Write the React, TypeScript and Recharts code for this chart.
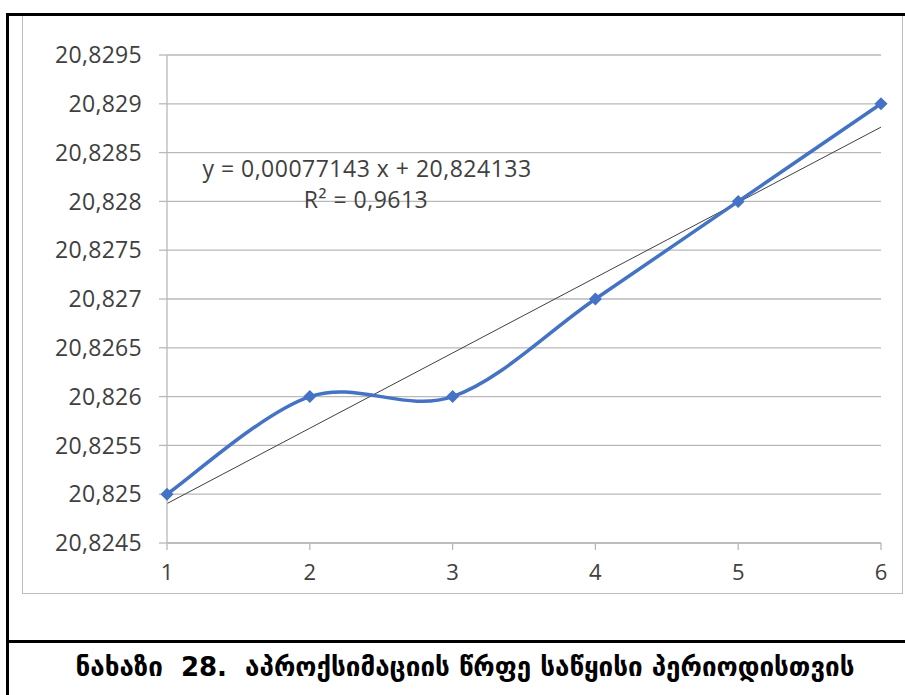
import React from 'react';
import { LineChart, Line, XAxis, YAxis, CartesianGrid } from 'recharts';

const periods = [1, 2, 3, 4, 5, 6];
const values = [20.825, 20.826, 20.826, 20.827, 20.828, 20.829];
// linear trend line shown in the reference (y = 0,00077143x + 20,824133)
const trendValues = [20.824904, 20.825676, 20.826447, 20.827219, 20.82799, 20.828761];
const yTicks = [
  20.8245, 20.825, 20.8255, 20.826, 20.8265, 20.827, 20.8275, 20.828, 20.8285, 20.829, 20.8295,
];
const equationText = 'y = 0,00077143 x + 20,824133';
const rSquaredText = 'R² = 0,9613';
const captionText = 'ნახაზი  28.  აპროქსიმაციის წრფე საწყისი პერიოდისთვის';

const data = periods.map((p, i) => ({ x: p, value: values[i], trend: trendValues[i] }));

const BLUE = '#4472C4';
const GRID = '#B9B9B9';
const FONT = '"Open Sans", "Liberation Sans", sans-serif';

// Excel-like smoothed line (Catmull-Rom converted to bezier segments)
const excelSmooth = (context: any) => {
  let pts: number[][] = [];
  return {
    areaStart() {},
    areaEnd() {},
    lineStart() {
      pts = [];
    },
    point(x: number, y: number) {
      pts.push([+x, +y]);
    },
    lineEnd() {
      const n = pts.length;
      if (!n) return;
      context.moveTo(pts[0][0], pts[0][1]);
      for (let i = 0; i < n - 1; i++) {
        const p0 = pts[i - 1] || pts[i];
        const p1 = pts[i];
        const p2 = pts[i + 1];
        const p3 = pts[i + 2] || p2;
        context.bezierCurveTo(
          p1[0] + (p2[0] - p0[0]) / 6,
          p1[1] + (p2[1] - p0[1]) / 6,
          p2[0] - (p3[0] - p1[0]) / 6,
          p2[1] - (p3[1] - p1[1]) / 6,
          p2[0],
          p2[1]
        );
      }
    },
  };
};

const Diamond = (props: any) => {
  const { cx, cy, index } = props;
  if (cx == null || cy == null) return null;
  const r = 6.5;
  return (
    <polygon
      key={`d-${index}`}
      points={`${cx},${cy - r} ${cx + r},${cy} ${cx},${cy + r} ${cx - r},${cy}`}
      fill={BLUE}
    />
  );
};

const formatY = (v: number) => String(Number(v.toFixed(4))).replace('.', ',');

export default function App() {
  return (
    <div
      style={{
        position: 'absolute',
        left: 0,
        top: 0,
        width: 905,
        height: 695,
        background: '#fff',
        overflow: 'hidden',
      }}
    >
      {/* outer black frame */}
      <div
        style={{
          position: 'absolute',
          left: 6,
          top: 13,
          width: 920,
          height: 720,
          borderLeft: '3px solid #000',
          borderTop: '3px solid #000',
          boxSizing: 'border-box',
        }}
      />
      <div style={{ position: 'absolute', left: 6, top: 640, width: 905, height: 3, background: '#000' }} />
      {/* chart area border */}
      <div
        style={{
          position: 'absolute',
          left: 22,
          top: 16,
          width: 881,
          height: 578,
          border: '1px solid #BDBDBD',
          borderTop: 'none',
          boxSizing: 'border-box',
        }}
      />
      <div style={{ position: 'absolute', left: 0, top: 0 }}>
        <LineChart
          width={905}
          height={600}
          data={data}
          margin={{ top: 55, right: 24, bottom: 17, left: 87 }}
        >
          <CartesianGrid vertical={false} stroke={GRID} strokeWidth={1.3} />
          <XAxis
            dataKey="x"
            type="number"
            domain={[1, 6]}
            ticks={periods}
            height={40}
            stroke={GRID}
            strokeWidth={1.3}
            tickSize={7}
            tickMargin={14}
            tick={{ fill: '#404040', fontSize: 22, fontFamily: FONT }}
          />
          <YAxis
            type="number"
            domain={[20.8245, 20.8295]}
            ticks={yTicks}
            allowDataOverflow
            width={80}
            stroke={GRID}
            strokeWidth={1.3}
            tickSize={8}
            tickMargin={17}
            tickFormatter={formatY}
            tick={{ fill: '#404040', fontSize: 23, fontFamily: FONT, letterSpacing: 0.3 }}
          />
          <Line
            dataKey="trend"
            type="linear"
            stroke="#404040"
            strokeWidth={1}
            dot={false}
            activeDot={false}
            isAnimationActive={false}
          />
          <Line
            dataKey="value"
            type={excelSmooth as any}
            stroke={BLUE}
            strokeWidth={3.5}
            dot={Diamond}
            activeDot={false}
            isAnimationActive={false}
          />
        </LineChart>
      </div>
      <svg
        width={905}
        height={695}
        style={{ position: 'absolute', left: 0, top: 0, pointerEvents: 'none' }}
      >
        <text
          x={367}
          y={177}
          textAnchor="middle"
          fontSize={23}
          letterSpacing={0.5}
          fontFamily={FONT}
          fill="#404040"
        >
          {equationText}
        </text>
        <text
          x={366}
          y={208}
          textAnchor="middle"
          fontSize={23}
          letterSpacing={0.5}
          fontFamily={FONT}
          fill="#404040"
        >
          {rSquaredText}
        </text>
        <text
          x={465}
          y={676}
          textAnchor="middle"
          fontSize={26}
          fontWeight="bold"
          fontFamily='"DejaVu Sans", sans-serif'
          fill="#000"
          style={{ whiteSpace: 'pre' }}
        >
          {captionText}
        </text>
      </svg>
    </div>
  );
}
